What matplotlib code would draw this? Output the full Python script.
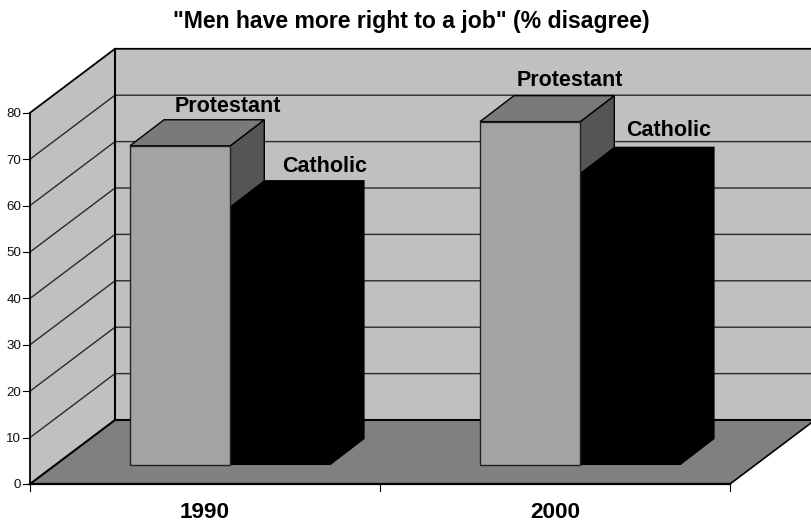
import matplotlib
matplotlib.use("Agg")
import matplotlib.pyplot as plt
from matplotlib.patches import Polygon

years = ["1990", "2000"]
series_names = ["Protestant", "Catholic"]
protestant = [68.8, 74.0]
catholic = [55.8, 63.0]
y_ticks = [0, 10, 20, 30, 40, 50, 60, 70, 80]

W, H = 811, 522
plt.rcParams['font.family'] = ['Liberation Sans', 'DejaVu Sans']
fig = plt.figure(figsize=(W / 100, H / 100), dpi=100, facecolor='white')
ax = fig.add_axes([0, 0, 1, 1])
ax.set_xlim(0, W)
ax.set_ylim(H, 0)
ax.axis('off')

# Projection scale
X0, Y0 = 30, 484
CAT_W = 350
UNIT = 4.64
DX, DY = 85, -64
BAR_W = 100.3
BAR_START = 100
BAR_DX, BAR_DY = 34, -26
BAR_BASE_DY = -19

# Label placement, relative to each bar
P_LABEL_DX = [97.5, 90.0]
C_LABEL_DX = [94.0, 88.0]
P_LABEL_DY = [-39, -41]
C_LABEL_DY = [-40, -42]

WALL = '#c0c0c0'
FLOOR = '#808080'
P_FRONT = '#a3a3a3'
P_TOP = '#7a7a7a'
P_SIDE = '#555555'
LINE = '#000000'


def vy(v):
    return Y0 - v * UNIT


top = max(y_ticks)
right = X0 + CAT_W * len(years)

# Walls and floor
ax.add_patch(Polygon([(X0 + DX, vy(0) + DY), (right + DX, vy(0) + DY),
                      (right + DX, vy(top) + DY), (X0 + DX, vy(top) + DY)],
                     fc=WALL, ec='none', zorder=1))
ax.add_patch(Polygon([(X0, vy(0)), (X0 + DX, vy(0) + DY),
                      (X0 + DX, vy(top) + DY), (X0, vy(top))],
                     fc=WALL, ec='none', zorder=1))
ax.add_patch(Polygon([(X0, vy(0)), (right, vy(0)),
                      (right + DX, vy(0) + DY), (X0 + DX, vy(0) + DY)],
                     fc=FLOOR, ec='none', zorder=1))

# Gridlines
for v in y_ticks[1:]:
    lw = 1.3 if v == top else 1.0
    ax.plot([X0, X0 + DX, right + DX], [vy(v), vy(v) + DY, vy(v) + DY],
            color=LINE if v == top else '#2a2a2a', lw=lw, zorder=2,
            solid_joinstyle='miter')
ax.plot([X0, X0], [vy(0), vy(top)], color=LINE, lw=1.3, zorder=2)
ax.plot([X0 + DX, X0 + DX], [vy(0) + DY, vy(top) + DY], color=LINE, lw=1.5, zorder=2)
ax.plot([X0 + DX, right + DX], [vy(0) + DY, vy(0) + DY], color=LINE, lw=1.5, zorder=2)
ax.plot([X0, X0 + DX], [vy(0), vy(0) + DY], color=LINE, lw=1.5, zorder=2)
ax.plot([right, right + DX], [vy(0), vy(0) + DY], color=LINE, lw=1.2, zorder=2)
ax.plot([X0, right], [vy(0), vy(0)], color=LINE, lw=1.6, zorder=2)

# Ticks
for v in y_ticks:
    ax.plot([X0 - 7, X0], [vy(v), vy(v)], color=LINE, lw=0.8, zorder=2)
    ax.text(X0 - 9, vy(v) + 1.5, str(v), ha='right', va='center', fontsize=9.6, color='#111111')
for i in range(len(years) + 1):
    xt = X0 + i * CAT_W
    ax.plot([xt, xt], [vy(0), vy(0) + 7], color=LINE, lw=0.8, zorder=2)

base = vy(0) + BAR_BASE_DY

# Bars
for i, year in enumerate(years):
    xl = X0 + i * CAT_W + BAR_START
    xm = xl + BAR_W
    xr = xm + BAR_W
    yp = base - protestant[i] * UNIT
    yc = base - catholic[i] * UNIT
    # Protestant side and top
    ax.add_patch(Polygon([(xm, base), (xm + BAR_DX, base + BAR_DY),
                          (xm + BAR_DX, yp + BAR_DY), (xm, yp)],
                         fc=P_SIDE, ec=LINE, lw=1.0, zorder=3))
    ax.add_patch(Polygon([(xl, yp), (xl + BAR_DX, yp + BAR_DY),
                          (xm + BAR_DX, yp + BAR_DY), (xm, yp)],
                         fc=P_TOP, ec=LINE, lw=1.0, zorder=3))
    # Catholic, solid black
    ax.add_patch(Polygon([(xm, base), (xr, base), (xr + BAR_DX, base + BAR_DY),
                          (xr + BAR_DX, yc + BAR_DY), (xm + BAR_DX, yc + BAR_DY), (xm, yc)],
                         fc='black', ec='none', zorder=4))
    # Protestant front
    ax.add_patch(Polygon([(xl, base), (xm, base), (xm, yp), (xl, yp)],
                         fc=P_FRONT, ec='#222222', lw=1.0, zorder=5))
    # Labels
    ax.text(xl + P_LABEL_DX[i], yp + P_LABEL_DY[i], series_names[0], ha='center', va='center',
            fontsize=15.5, fontweight='bold', color='black', zorder=6)
    ax.text(xm + C_LABEL_DX[i], yc + C_LABEL_DY[i], series_names[1], ha='center', va='center',
            fontsize=15.5, fontweight='bold', color='black', zorder=6)
    ax.text(X0 + i * CAT_W + CAT_W / 2, 513, year, ha='center', va='center',
            fontsize=16.2, fontweight='bold', color='black')

ax.text(411.5, 21.5, '"Men have more right to a job" (% disagree)', ha='center', va='center',
        fontsize=16.6, fontweight='bold', color='black')

fig.savefig('out.png', dpi=100)
